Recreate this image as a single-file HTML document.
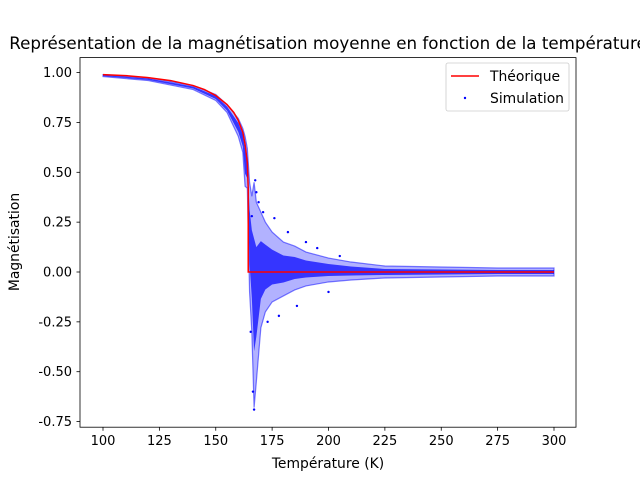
<!DOCTYPE html>
<html><head><meta charset="utf-8"><style>
body{margin:0;background:#fff;}
svg{display:block;font-family:"DejaVu Sans","Liberation Sans",sans-serif;}
</style></head><body>
<svg id="chart" width="640" height="480" viewBox="0 0 640 480">
<rect width="640" height="480" fill="#fff"/>
<text x="328" y="49" font-size="16.7" text-anchor="middle" fill="#000">Représentation de la magnétisation moyenne en fonction de la température</text>
<g id="plot"></g>
<rect x="80" y="57.6" width="496" height="369.6" fill="none" stroke="#000" stroke-width="0.8"/>
<g id="xt"></g><g id="yt"></g>
<text x="328" y="468" font-size="13.9" text-anchor="middle">Température (K)</text>
<text x="19" y="242" font-size="13.9" text-anchor="middle" transform="rotate(-90 19 242)">Magnétisation</text>
<g>
<rect x="446" y="63" width="123" height="48" rx="2" fill="#fff" fill-opacity="0.8" stroke="#ccc" stroke-width="0.8"/>
<line x1="451" y1="76" x2="479" y2="76" stroke="red" stroke-width="1.5"/>
<text x="490" y="81" font-size="13.9">Théorique</text>
<circle cx="465" cy="98" r="1.2" fill="blue"/>
<text x="490" y="103" font-size="13.9">Simulation</text>
</g>
</svg>
<script>
const xTicks=[100,125,150,175,200,225,250,275,300];
const yTicks=[1.00,0.75,0.50,0.25,0.00,-0.25,-0.50,-0.75];
const theoryT=[100,110,120,130,140,145,150,155,158,160,162,163,164,164.4,164.4,170,200,250,300];
const theoryM=[0.99,0.985,0.975,0.96,0.935,0.915,0.885,0.84,0.8,0.76,0.7,0.64,0.55,0.42,0.0,0.0,0.0,0.0,0.0];
const envT=[100,120,140,150,155,160,162,163,164,165,166,167,168,170,172,175,180,185,190,200,210,225,250,275,300];
const envHigh=[0.99,0.975,0.935,0.89,0.84,0.77,0.72,0.68,0.62,0.45,0.38,0.45,0.35,0.3,0.25,0.2,0.15,0.13,0.1,0.07,0.05,0.03,0.025,0.02,0.02];
const envLow=[0.98,0.96,0.915,0.86,0.8,0.68,0.6,0.43,0.42,-0.1,-0.3,-0.68,-0.55,-0.28,-0.2,-0.15,-0.12,-0.09,-0.07,-0.05,-0.04,-0.03,-0.025,-0.02,-0.02];
const outT=[165.5,166,166.5,167,167.5,168,169,171,173,176,178,182,186,190,195,200,205];
const outM=[-0.3,0.28,-0.6,-0.69,0.46,0.4,0.35,0.3,-0.25,0.27,-0.22,0.2,-0.17,0.15,0.12,-0.1,0.08];
const NS="http://www.w3.org/2000/svg";
const X=t=>103+(t-100)*(451/200);
const Y=m=>272-m*(199.4/1.0);
function mk(tag,attrs,parent){const e=document.createElementNS(NS,tag);for(const k in attrs)e.setAttribute(k,attrs[k]);parent.appendChild(e);return e;}
const plot=document.getElementById('plot'),xt=document.getElementById('xt'),yt=document.getElementById('yt');
xTicks.forEach(v=>{const x=X(v);
 const l=mk('line',{x1:x,x2:x,y1:427.2,y2:430.7,stroke:'#000','stroke-width':0.8},xt);
 
 
 const t=mk('text',{x:x,y:445,'font-size':13,'text-anchor':'middle'},xt);t.textContent=v;
 
 });
yTicks.forEach(v=>{const y=Y(v);
 const l=mk('line',{x1:76.5,x2:80,y1:y,y2:y,stroke:'#000','stroke-width':0.8},yt);
 
 
 const t=mk('text',{x:72,y:y+4.5,'font-size':13,'text-anchor':'end'},yt);t.textContent=v.toFixed(2);
 
 });
let pts=envT.map((t,i)=>X(t)+','+Y(envHigh[i]));
for(let i=envT.length-1;i>=0;i--)pts.push(X(envT[i])+','+Y(envLow[i]));
const outer=mk('polygon',{points:pts.join(' '),fill:'blue','fill-opacity':0.3,stroke:'blue','stroke-width':1.2,'stroke-opacity':0.5},plot);


let cp=envT.map((t,i)=>{const c=(envHigh[i]+envLow[i])/2,h=(envHigh[i]-envLow[i])/2;return X(t)+','+Y(c+h*0.5);});
for(let i=envT.length-1;i>=0;i--){const c=(envHigh[i]+envLow[i])/2,h=(envHigh[i]-envLow[i])/2;cp.push(X(envT[i])+','+Y(c-h*0.5));}
const core=mk('polygon',{points:cp.join(' '),fill:'blue','fill-opacity':0.7},plot);


outT.forEach((t,i)=>{const c=mk('circle',{cx:X(t),cy:Y(outM[i]),r:1.2,fill:'blue'},plot);
 
 });
const tl=mk('polyline',{points:theoryT.map((t,i)=>X(t)+','+Y(theoryM[i])).join(' '),fill:'none',stroke:'red','stroke-width':1.5},plot);


</script>
</body></html>
